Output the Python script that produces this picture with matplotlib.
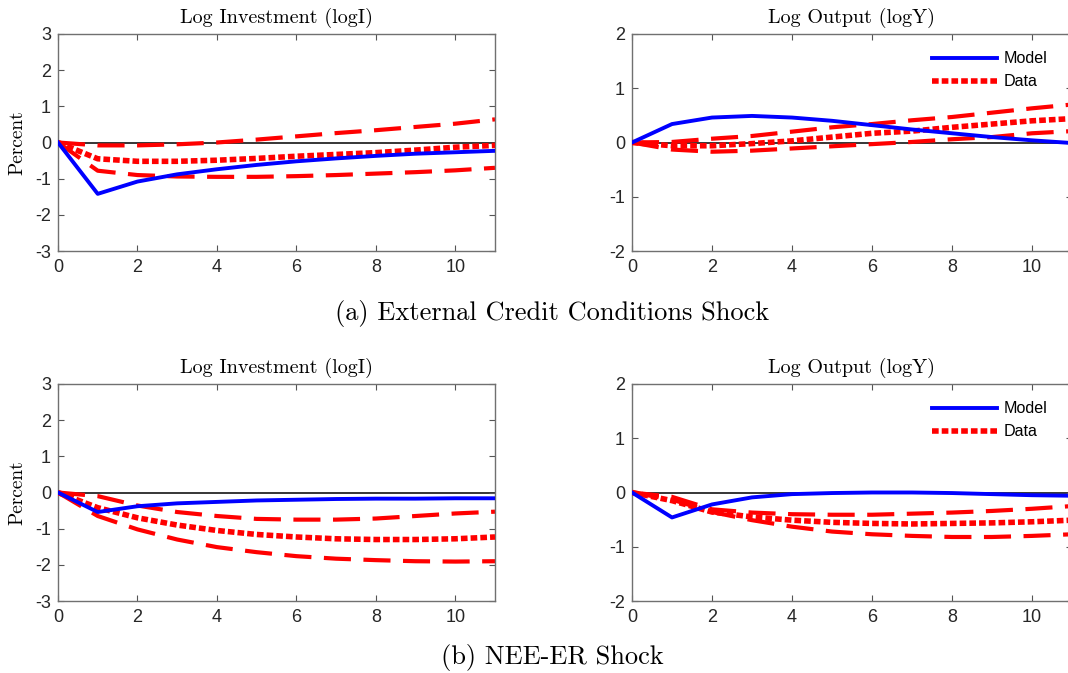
import numpy as np
import matplotlib.pyplot as plt

plt.rcParams['font.family'] = ['Liberation Sans', 'DejaVu Sans']
plt.rcParams['axes.unicode_minus'] = False

horizon = np.arange(12)

# (a) external credit conditions shock
a_inv_model = [0, -1.42, -1.08, -0.88, -0.74, -0.62, -0.52, -0.44, -0.37, -0.31, -0.27, -0.23]
a_inv_data = [0, -0.45, -0.52, -0.52, -0.49, -0.44, -0.38, -0.33, -0.28, -0.21, -0.13, -0.08]
a_inv_hi = [0, -0.08, -0.08, -0.05, 0.0, 0.08, 0.17, 0.26, 0.34, 0.43, 0.52, 0.64]
a_inv_lo = [0, -0.78, -0.9, -0.94, -0.95, -0.95, -0.93, -0.9, -0.86, -0.82, -0.77, -0.7]

a_out_model = [0, 0.34, 0.46, 0.49, 0.46, 0.4, 0.32, 0.24, 0.17, 0.1, 0.04, -0.01]
a_out_data = [0, -0.06, -0.06, -0.02, 0.03, 0.1, 0.17, 0.21, 0.28, 0.34, 0.4, 0.44]
a_out_hi = [0, 0.01, 0.07, 0.12, 0.2, 0.28, 0.34, 0.41, 0.47, 0.55, 0.63, 0.7]
a_out_lo = [0, -0.13, -0.17, -0.15, -0.11, -0.07, -0.03, 0.01, 0.06, 0.1, 0.17, 0.21]

# (b) NEE-ER shock
b_inv_model = [0, -0.54, -0.38, -0.3, -0.26, -0.22, -0.2, -0.18, -0.17, -0.17, -0.16, -0.16]
b_inv_data = [0, -0.42, -0.7, -0.9, -1.05, -1.16, -1.23, -1.28, -1.3, -1.3, -1.28, -1.23]
b_inv_hi = [0, -0.1, -0.36, -0.54, -0.65, -0.73, -0.75, -0.75, -0.72, -0.65, -0.58, -0.53]
b_inv_lo = [0, -0.65, -1.02, -1.3, -1.51, -1.65, -1.76, -1.83, -1.87, -1.9, -1.91, -1.9]

b_out_model = [0, -0.46, -0.22, -0.09, -0.03, -0.01, 0.0, 0.0, -0.01, -0.03, -0.05, -0.06]
b_out_data = [0, -0.15, -0.36, -0.45, -0.51, -0.55, -0.57, -0.58, -0.57, -0.56, -0.54, -0.51]
b_out_hi = [0, -0.08, -0.31, -0.37, -0.4, -0.41, -0.41, -0.39, -0.37, -0.34, -0.3, -0.25]
b_out_lo = [0, -0.13, -0.36, -0.51, -0.63, -0.72, -0.77, -0.8, -0.82, -0.82, -0.8, -0.77]

fig = plt.figure(figsize=(10.68, 6.73), dpi=100)

W, H = 1068, 673


def panel(x0, x1, y0, y1):
    # pixel box -> figure fraction
    return fig.add_axes([x0 / W, 1 - y1 / H, (x1 - x0) / W, (y1 - y0) / H])


def irf(ax, model, data, hi, lo, ylim, title, legend=False, ylabel=False):
    ax.axhline(0, color='black', lw=1.1, zorder=1)
    ax.plot(horizon, hi, color='#ff0000', lw=3, dashes=(6.5, 3), dash_capstyle='butt', zorder=2)
    ax.plot(horizon, lo, color='#ff0000', lw=3, dashes=(6.5, 3), dash_capstyle='butt', zorder=2)
    ax.plot(horizon, data, color='#ff0000', lw=4, dashes=(1.2, 0.55), dash_capstyle='butt',
            zorder=3, label='Data')
    ax.plot(horizon, model, color='#0000ff', lw=2.8, zorder=4, label='Model')
    ax.set_xlim(0, 11)
    ax.set_ylim(*ylim)
    ax.set_xticks(range(0, 11, 2))
    ax.set_yticks(range(ylim[0], ylim[1] + 1))
    ax.tick_params(direction='in', top=True, right=True, length=4, width=0.8,
                   colors='#555555', labelcolor='#262626', labelsize=13)
    ax.tick_params(axis='x', pad=6)
    ax.tick_params(axis='y', pad=5)
    for s in ax.spines.values():
        s.set_color('#707070')
        s.set_linewidth(1.0)
    ax.set_title(title, family='cmr10', fontsize=14.5, pad=8)
    if ylabel:
        ax.set_ylabel('Percent', family='cmr10', fontsize=14)
        ax.yaxis.label.set_va('center')
        ax.yaxis.set_label_coords(-0.094, 0.5)
    if legend:
        h, l = ax.get_legend_handles_labels()
        ax.legend([h[1], h[0]], [l[1], l[0]], loc='upper left', frameon=False,
                  fontsize=11.6, handlelength=4.0, handletextpad=0.43, labelspacing=0.5,
                  borderpad=0, borderaxespad=0, bbox_to_anchor=(0.682, 0.92))


ax1 = panel(58, 495, 34, 251)
irf(ax1, a_inv_model, a_inv_data, a_inv_hi, a_inv_lo, (-3, 3), 'Log Investment (logI)', ylabel=True)
ax2 = panel(632, 1072, 34, 251)
irf(ax2, a_out_model, a_out_data, a_out_hi, a_out_lo, (-2, 2), 'Log Output (logY)', legend=True)
ax3 = panel(58, 495, 384, 601)
irf(ax3, b_inv_model, b_inv_data, b_inv_hi, b_inv_lo, (-3, 3), 'Log Investment (logI)', ylabel=True)
ax4 = panel(632, 1072, 384, 601)
irf(ax4, b_out_model, b_out_data, b_out_hi, b_out_lo, (-2, 2), 'Log Output (logY)', legend=True)

fig.text(552 / W, 1 - 320 / H, '(a) External Credit Conditions Shock', family='cmr10',
         fontsize=19, ha='center', va='baseline')
fig.text(552 / W, 1 - 664 / H, '(b) NEE-ER Shock', family='cmr10',
         fontsize=19, ha='center', va='baseline')

fig.savefig('out.png', dpi=100)
